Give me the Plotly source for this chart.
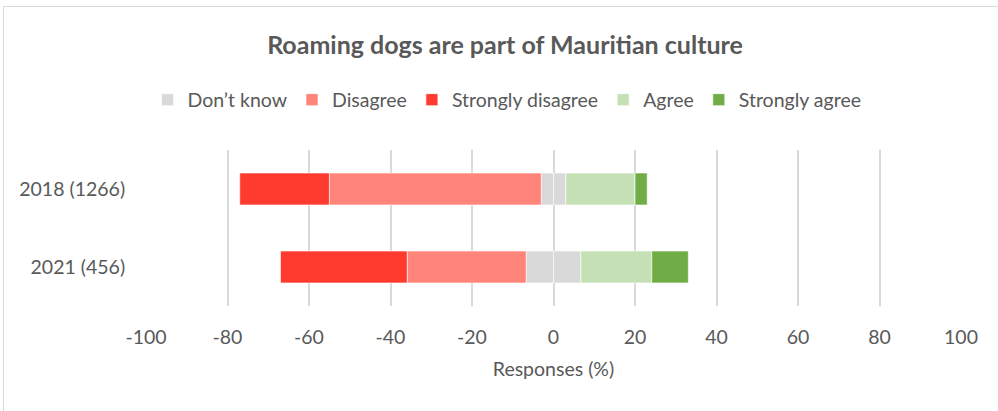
import plotly.graph_objects as go

# Survey responses (%) by year
years = ["2018 (1266)", "2021 (456)"]
dont_know = [6.0, 13.4]
disagree = [52.0, 29.2]
strongly_disagree = [22.0, 31.1]
agree = [17.0, 17.4]
strongly_agree = [3.0, 9.0]

x_ticks = [-100, -80, -60, -40, -20, 0, 20, 40, 60, 80, 100]

colors = {
    "dk": "#D9D9D9",
    "d": "#FF857A",
    "sd": "#FF3A2F",
    "a": "#C5E0B4",
    "sa": "#70AD47",
}

FONT = "Lato"
TXT = "#595959"
FS = 19.5

line = dict(color="rgba(255,255,255,0.8)", width=0.8)

fig = go.Figure()
# "Don't know" is split evenly across the zero line
fig.add_trace(go.Bar(y=years, x=[-v / 2 for v in dont_know], orientation="h",
                     name="Don’t know", legendgroup="dk",
                     marker=dict(color=colors["dk"], line=line)))
fig.add_trace(go.Bar(y=years, x=[v / 2 for v in dont_know], orientation="h",
                     name="Don’t know", legendgroup="dk", showlegend=False,
                     marker=dict(color=colors["dk"], line=line)))
fig.add_trace(go.Bar(y=years, x=[-v for v in disagree], orientation="h",
                     name="Disagree", marker=dict(color=colors["d"], line=line)))
fig.add_trace(go.Bar(y=years, x=[-v for v in strongly_disagree], orientation="h",
                     name="Strongly disagree", marker=dict(color=colors["sd"], line=line)))
fig.add_trace(go.Bar(y=years, x=agree, orientation="h",
                     name="Agree", marker=dict(color=colors["a"], line=line)))
fig.add_trace(go.Bar(y=years, x=strongly_agree, orientation="h",
                     name="Strongly agree", marker=dict(color=colors["sa"], line=line)))

L, R, T, B = 146, 37, 150, 105
W, H = 998, 411
pw, ph = W - L - R, H - T - B

def px_x(p):
    return (p - L) / pw

def px_y(p):
    return (H - B - p) / ph

fig.update_layout(
    width=W, height=H,
    barmode="relative",
    bargap=0.59,
    margin=dict(l=L, r=R, t=T, b=B),
    paper_bgcolor="white",
    plot_bgcolor="white",
    font=dict(family=FONT, color=TXT, size=FS),
    title=dict(text="<b>Roaming dogs are part of Mauritian culture</b>",
               x=px_x(505), xanchor="center", xref="paper",
               y=1 - 45 / H, yref="container", yanchor="middle",
               font=dict(family=FONT, size=25, color=TXT)),
    legend=dict(orientation="h", x=px_x(507), xanchor="center", xref="paper",
                y=px_y(100), yref="paper", yanchor="middle",
                font=dict(family=FONT, size=FS, color=TXT),
                itemwidth=30, traceorder="normal"),
    xaxis=dict(range=[-100, 100], tickvals=x_ticks,
               ticktext=[str(v) for v in x_ticks],
               showgrid=True, gridcolor="#D9D9D9", gridwidth=1.5,
               zeroline=True, zerolinecolor="#D9D9D9", zerolinewidth=1.5,
               showline=False, ticks="outside", ticklen=14,
               tickcolor="rgba(0,0,0,0)",
               tickfont=dict(family=FONT, size=FS, color=TXT),
               title=dict(text="Responses (%)", standoff=14,
                          font=dict(family=FONT, size=FS, color=TXT))),
    yaxis=dict(autorange="reversed", showgrid=False, showline=False,
               ticks="outside", ticklen=16, tickcolor="rgba(0,0,0,0)",
               tickfont=dict(family=FONT, size=FS, color=TXT)),
    shapes=[dict(type="rect", xref="paper", yref="paper",
                 x0=px_x(3.5), x1=px_x(1002), y0=px_y(6.5), y1=px_y(416),
                 line=dict(color="#D9D9D9", width=1), fillcolor="rgba(0,0,0,0)",
                 layer="below")],
)

fig.write_html("out.html")
